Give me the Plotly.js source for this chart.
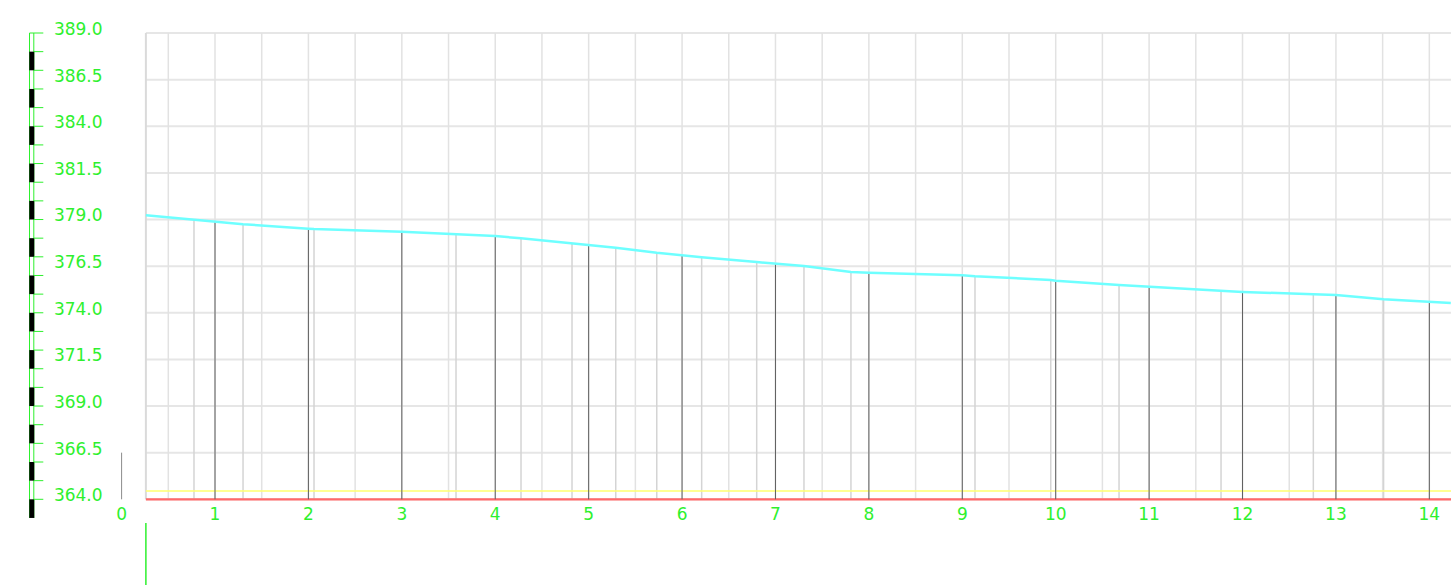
<!DOCTYPE html>
<html>
<head>
<meta charset="utf-8">
<script src="https://cdn.plot.ly/plotly-3.0.1.min.js"></script>
<style>html,body{margin:0;padding:0;background:#fff;}#chart{width:1451px;height:585px;}</style>
</head>
<body>
<div id="chart"></div>
<script>
// ---- data ----
// profile vertices: chainage (station) and ground elevation
const stations = [0.26, 0.775, 1, 1.3, 2, 2.06, 3, 3.58, 4, 4.276, 4.822, 5, 5.29, 5.729, 6, 6.21, 6.799, 7, 7.305, 7.808, 8, 9, 9.136, 9.947, 10, 10.678, 11, 11.77, 12, 12.758, 13, 13.51, 14, 14.23];
const elevations = [379.23, 378.98, 378.87, 378.75, 378.51, 378.49, 378.35, 378.24, 378.12, 377.99, 377.74, 377.65, 377.49, 377.22, 377.08, 376.98, 376.72, 376.63, 376.51, 376.19, 376.15, 376.01, 375.96, 375.76, 375.72, 375.49, 375.40, 375.22, 375.12, 374.99, 374.95, 374.72, 374.58, 374.53];
// x tick labels (chainage)
const xTickVals = [0,1,2,3,4,5,6,7,8,9,10,11,12,13,14];
const xTickText = ["0","1","2","3","4","5","6","7","8","9","10","11","12","13","14"];
// y tick labels (elevation)
const yTickVals = [364, 366.5, 369, 371.5, 374, 376.5, 379, 381.5, 384, 386.5, 389];
const yTickText = ["364.0","366.5","369.0","371.5","374.0","376.5","379.0","381.5","384.0","386.5","389.0"];
// reference levels
const datumLevel = 364.0;      // red line
const yellowLevel = 364.45;    // yellow line
const markerTop = 366.5;       // small gray mark at chainage 0

// ---- scales / geometry ----
const W = 1451, H = 585;
const pxPerX = 93.41, x0px = 121.6;
const pxPerY = 18.652, y389px = 33.0;
const xMin = -x0px / pxPerX, xMax = (W - x0px) / pxPerX;
const yMax = 389 + y389px / pxPerY;
const yMin = 389 - (H - y389px) / pxPerY;
const pxToX = p => (p - x0px) / pxPerX;

const GREEN = '#2ef02e';
const startX = stations[0], endX = xMax + 0.5;
const gridTop = 389, gridBottom = datumLevel;

function segs(list) { // list of [[x0,y0],[x1,y1]]
  const x = [], y = [];
  list.forEach(s => { x.push(s[0][0], s[1][0], null); y.push(s[0][1], s[1][1], null); });
  return {x, y};
}
const traces = [];
function addLines(list, color, width) {
  const s = segs(list);
  traces.push({type:'scatter', mode:'lines', x:s.x, y:s.y, line:{color, width}, hoverinfo:'skip', connectgaps:false});
}

// horizontal grid
addLines(yTickVals.map(v => [[startX, v],[endX, v]]), 'rgb(230,230,230)', 2);
// vertical grid every 0.5
const vg = [];
for (let k = 1; k <= 29; k++) vg.push([[k*0.5, gridBottom],[k*0.5, gridTop]]);
addLines(vg, 'rgb(226,226,226)', 1.5);
// left border
addLines([[[startX, gridBottom],[startX, gridTop]]], 'rgb(218,218,218)', 2);

// breakpoint verticals (non-integer vertices)
const bp = [], dark = [];
stations.forEach((s, i) => {
  if (i === 0 || i === stations.length - 1) return;
  if (Math.abs(s - Math.round(s)) < 1e-9) dark.push([[s, datumLevel],[s, elevations[i]]]);
  else bp.push([[s, datumLevel],[s, elevations[i]]]);
});
addLines(bp, 'rgb(212,212,212)', 1.5);

// yellow & red levels
addLines([[[startX, yellowLevel],[endX, yellowLevel]]], 'rgb(255,255,110)', 1.5);
addLines([[[startX, datumLevel],[endX, datumLevel]]], 'rgb(255,105,105)', 2.2);

// integer chainage verticals
addLines(dark, 'rgb(95,95,95)', 1);

// profile line
traces.push({type:'scatter', mode:'lines', x:stations, y:elevations, line:{color:'rgb(110,255,255)', width:2.5}, hoverinfo:'skip'});

// small gray mark at chainage 0
addLines([[[0, datumLevel],[0, markerTop]]], 'rgb(140,140,140)', 1);
// green line below the start
addLines([[[startX, 389 - (523 - y389px)/pxPerY],[startX, yMin]]], GREEN, 1.5);

// ---- left elevation scale bar ----
const barL = pxToX(29.5), barR = pxToX(33.8), barC = pxToX(31.8), tickR = pxToX(43.3);
const barBottom = 363;
addLines([[[barL, barBottom],[barL, 389]], [[barR, barBottom],[barR, 389]]], GREEN, 1);
const blacks = [];
for (let v = barBottom; v < 389; v += 2) blacks.push([[barC, v],[barC, v + 1]]);
addLines(blacks, '#000000', 5);
const ticks = [];
for (let v = 364; v <= 389; v++) ticks.push([[v === 389 ? barL : barR, v],[tickR, v]]);
addLines(ticks, GREEN, 1);

const layout = {
  width: W, height: H,
  margin: {l:0, r:0, t:0, b:0, pad:0},
  paper_bgcolor: '#ffffff', plot_bgcolor: '#ffffff',
  showlegend: false,
  xaxis: {
    range: [xMin, xMax], anchor: 'free', position: (datumLevel - yMin) / (yMax - yMin),
    showgrid: false, zeroline: false, showline: false, ticks: '',
    tickmode: 'array', tickvals: xTickVals, ticktext: xTickText,
    tickfont: {family: 'DejaVu Sans', size: 17, color: GREEN},
    ticklabelstandoff: 3, fixedrange: true
  },
  yaxis: {
    range: [yMin, yMax], anchor: 'free', position: x0px / W,
    showgrid: false, zeroline: false, showline: false, ticks: '',
    tickmode: 'array', tickvals: yTickVals, ticktext: yTickText,
    tickfont: {family: 'DejaVu Sans', size: 17, color: GREEN},
    ticklabelstandoff: 19, ticklabelshift: -4, fixedrange: true
  }
};
Plotly.newPlot('chart', traces, layout, {staticPlot: true, displayModeBar: false});
</script>
</body>
</html>
